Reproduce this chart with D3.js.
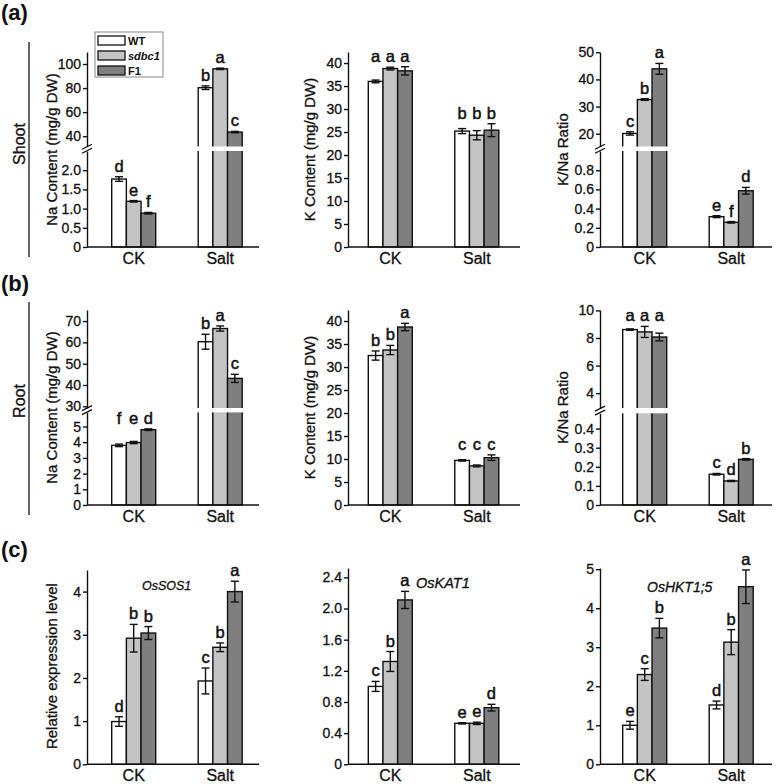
<!DOCTYPE html>
<html><head><meta charset="utf-8">
<script src="https://cdn.jsdelivr.net/npm/d3@7"></script>
<style>
body{margin:0;background:#fff}
svg{display:block}
text{font-family:"Liberation Sans",Arial,sans-serif;fill:#111;stroke:#111;stroke-width:0.3px}
</style>
</head><body><svg id="c" width="778" height="784"></svg>
<script>
// ---------- DATA ----------
const groups = ["CK", "Salt"];
const genotypes = ["WT", "sdbc1", "F1"];
const barColors = ["#ffffff", "#c4c4c4", "#7f7f7f"];

// each: [CK:[WT,sdbc1,F1], Salt:[WT,sdbc1,F1]]
const shootNa = [[1.77, 1.19, 0.88], [80.3, 96.0, 43.4]];
const shootNaErr = [[0.06, 0.02, 0.02], [1.5, 0.6, 0.6]];
const shootNaSig = [["d", "e", "f"], ["b", "a", "c"]];
const shootNaTicksLow = [0, 0.5, 1.0, 1.5, 2.0];
const shootNaTicksHigh = [40, 60, 80, 100];

const shootK = [[36.0, 38.8, 38.3], [25.2, 24.3, 25.4]];
const shootKErr = [[0.3, 0.3, 0.9], [0.55, 1.0, 1.4]];
const shootKSig = [["a", "a", "a"], ["b", "b", "b"]];
const shootKTicks = [0, 5, 10, 15, 20, 25, 30, 35, 40];

const shootRatio = [[20.1, 32.6, 43.9], [0.316, 0.257, 0.586]];
const shootRatioErr = [[0.6, 0.3, 2.0], [0.01, 0.008, 0.035]];
const shootRatioSig = [["c", "b", "a"], ["e", "f", "d"]];
const shootRatioTicksLow = [0, 0.2, 0.4, 0.6, 0.8];
const shootRatioTicksHigh = [20, 30, 40, 50];

const rootNa = [[3.8, 3.98, 4.8], [60.3, 66.5, 43.1]];
const rootNaErr = [[0.08, 0.07, 0.05], [3.5, 1.2, 1.9]];
const rootNaSig = [["f", "e", "d"], ["b", "a", "c"]];
const rootNaTicksLow = [0, 1, 2, 3, 4, 5];
const rootNaTicksHigh = [30, 40, 50, 60, 70];

const rootK = [[32.5, 33.7, 38.7], [9.7, 8.5, 10.3]];
const rootKErr = [[1.0, 1.0, 0.8], [0.15, 0.2, 0.6]];
const rootKSig = [["b", "b", "a"], ["c", "c", "c"]];
const rootKTicks = [0, 5, 10, 15, 20, 25, 30, 35, 40];

const rootRatio = [[8.61, 8.44, 8.07], [0.161, 0.126, 0.239]];
const rootRatioErr = [[0.05, 0.4, 0.28], [0.004, 0.003, 0.004]];
const rootRatioSig = [["a", "a", "a"], ["c", "d", "b"]];
const rootRatioTicksLow = [0, 0.1, 0.2, 0.3, 0.4];
const rootRatioTicksHigh = [4, 6, 8, 10];

const sos1 = [[0.99, 2.92, 3.04], [1.93, 2.71, 4.0]];
const sos1Err = [[0.11, 0.32, 0.15], [0.3, 0.1, 0.24]];
const sos1Sig = [["d", "b", "b"], ["c", "b", "a"]];
const sos1Ticks = [0, 1, 2, 3, 4];

const kat1 = [[1.0, 1.32, 2.11], [0.526, 0.526, 0.727]];
const kat1Err = [[0.064, 0.128, 0.11], [0.008, 0.015, 0.043]];
const kat1Sig = [["c", "b", "a"], ["e", "e", "d"]];
const kat1Ticks = [0, 0.4, 0.8, 1.2, 1.6, 2.0, 2.4];

const hkt = [[1.0, 2.3, 3.49], [1.52, 3.13, 4.55]];
const hktErr = [[0.1, 0.15, 0.25], [0.1, 0.32, 0.43]];
const hktSig = [["e", "c", "b"], ["d", "b", "a"]];
const hktTicks = [0, 1, 2, 3, 4, 5];

// ---------- LAYOUT ----------
const svg = d3.select("#c");
const cols = [{axis: 87, g0: 111.7, lab: 52}, {axis: 348, g0: 368.3, lab: 310}, {axis: 600, g0: 622.7, lab: 563}];
const rows = [{y0: 247, top: 52}, {y0: 505, top: 310}, {y0: 764.3, top: 568}];
const AXLEN = 172;
const fmt = n => d => d === 0 ? "0" : d.toFixed(n);

const panels = [
  {c:0, r:0, v:shootNa, e:shootNaErr, s:shootNaSig, ylab:"Na Content (mg/g DW)",
   low:{dom:[0,2.5], rng:[247,151], ticks:shootNaTicksLow, f:fmt(1)},
   high:{dom:[31.4,110], rng:[146.5,52], ticks:shootNaTicksHigh, f:fmt(0)}, align:[false,false]},
  {c:1, r:0, v:shootK, e:shootKErr, s:shootKSig, ylab:"K Content (mg/g DW)",
   low:{dom:[0,42.4], rng:[247,52], ticks:shootKTicks, f:fmt(0)}, align:[true,true]},
  {c:2, r:0, v:shootRatio, e:shootRatioErr, s:shootRatioSig, ylab:"K/Na Ratio",
   low:{dom:[0,1.0], rng:[247,151], ticks:shootRatioTicksLow, f:fmt(1)},
   high:{dom:[15.3,50.1], rng:[146.5,52], ticks:shootRatioTicksHigh, f:fmt(0)}, align:[false,false]},
  {c:0, r:1, v:rootNa, e:rootNaErr, s:rootNaSig, ylab:"Na Content (mg/g DW)",
   low:{dom:[0,5.9], rng:[505,412.4], ticks:rootNaTicksLow, f:fmt(0)},
   high:{dom:[29.2,75.2], rng:[408,310], ticks:rootNaTicksHigh, f:fmt(0)}, align:[true,false]},
  {c:1, r:1, v:rootK, e:rootKErr, s:rootKSig, ylab:"K Content (mg/g DW)",
   low:{dom:[0,42.4], rng:[505,310], ticks:rootKTicks, f:fmt(0)}, align:[false,true]},
  {c:2, r:1, v:rootRatio, e:rootRatioErr, s:rootRatioSig, ylab:"K/Na Ratio",
   low:{dom:[0,0.48], rng:[505,413.3], ticks:rootRatioTicksLow, f:fmt(1)},
   high:{dom:[2.92,10.03], rng:[408,310], ticks:rootRatioTicksHigh, f:fmt(0)}, align:[true,false]},
  {c:0, r:2, v:sos1, e:sos1Err, s:sos1Sig, ylab:"Relative expression level",
   low:{dom:[0,4.5], rng:[764.3,570], ticks:sos1Ticks, f:fmt(0)}, align:[false,false],
   gene:{t:"OsSOS1", x:142, y:590, size:12.5}},
  {c:1, r:2, v:kat1, e:kat1Err, s:kat1Sig, ylab:null,
   low:{dom:[0,2.52], rng:[764.3,568], ticks:kat1Ticks, f:fmt(1)}, align:[false,false],
   gene:{t:"OsKAT1", x:416, y:588, size:14.5}},
  {c:2, r:2, v:hkt, e:hktErr, s:hktSig, ylab:null,
   low:{dom:[0,5.03], rng:[764.3,568], ticks:hktTicks, f:fmt(0)}, align:[false,false],
   gene:{t:"OsHKT1;5", x:647, y:592, size:14}}
];

const ink = "#111";

panels.forEach(p => {
  const col = cols[p.c], row = rows[p.r];
  const g = svg.append("g");
  const lowS = d3.scaleLinear().domain(p.low.dom).range(p.low.rng);
  const highS = p.high ? d3.scaleLinear().domain(p.high.dom).range(p.high.rng) : null;
  const yOf = v => (highS && v > p.low.dom[1]) ? highS(v) : lowS(v);

  const xG = d3.scaleBand().domain(groups).range([col.g0, col.g0 + 130.5]).paddingInner(0.4913).paddingOuter(0);
  const xB = d3.scaleBand().domain(genotypes).range([0, xG.bandwidth()]);

  const data = [];
  groups.forEach((gr, gi) => genotypes.forEach((gt, ti) => {
    data.push({gr, gi, gt, ti, v: p.v[gi][ti], e: p.e[gi][ti], s: p.s[gi][ti]});
  }));

  // bars
  g.selectAll("rect.bar").data(data).join("rect").attr("class", "bar")
    .attr("x", d => xG(d.gr) + xB(d.gt))
    .attr("width", xB.bandwidth())
    .attr("y", d => yOf(d.v))
    .attr("height", d => lowS(0) - yOf(d.v))
    .attr("fill", d => barColors[d.ti])
    .attr("stroke", ink).attr("stroke-width", 1.4);

  // error bars
  const eb = g.selectAll("g.eb").data(data).join("g").attr("class", "eb")
    .attr("stroke", ink).attr("stroke-width", 1.4);
  const cx = d => xG(d.gr) + xB(d.gt) + xB.bandwidth() / 2;
  eb.append("line").attr("x1", cx).attr("x2", cx).attr("y1", d => yOf(d.v - d.e)).attr("y2", d => yOf(d.v + d.e));
  eb.append("line").attr("x1", d => cx(d) - 4).attr("x2", d => cx(d) + 4).attr("y1", d => yOf(d.v + d.e)).attr("y2", d => yOf(d.v + d.e));
  eb.append("line").attr("x1", d => cx(d) - 4).attr("x2", d => cx(d) + 4).attr("y1", d => yOf(d.v - d.e)).attr("y2", d => yOf(d.v - d.e));

  // break band
  if (highS) {
    const b0 = p.high.rng[0], b1 = p.low.rng[1];
    g.append("rect").attr("x", col.axis + 1).attr("width", AXLEN).attr("y", b0).attr("height", b1 - b0).attr("fill", "#fff");
  }

  // y axes
  const styleAxis = a => {
    a.select(".domain").attr("stroke", ink).attr("stroke-width", 1.4);
    a.selectAll(".tick line").attr("stroke", ink).attr("stroke-width", 1.4);
    a.selectAll(".tick text").attr("font-size", 14).attr("fill", ink)
      .style("font-family", '"Liberation Sans", Arial, sans-serif');
  };
  const aLow = g.append("g").attr("transform", `translate(${col.axis},0)`)
    .call(d3.axisLeft(lowS).tickValues(p.low.ticks).tickFormat(p.low.f).tickSize(4).tickSizeOuter(0).tickPadding(2));
  styleAxis(aLow);
  if (highS) {
    const aHigh = g.append("g").attr("transform", `translate(${col.axis},0)`)
      .call(d3.axisLeft(highS).tickValues(p.high.ticks).tickFormat(p.high.f).tickSize(4).tickSizeOuter(0).tickPadding(2));
    styleAxis(aHigh);
    const mid = (p.high.rng[0] + p.low.rng[1]) / 2;
    [-2, 2].forEach(o => {
      g.append("line").attr("x1", col.axis - 5).attr("x2", col.axis + 5)
        .attr("y1", mid + o + 2.5).attr("y2", mid + o - 2.5)
        .attr("stroke", ink).attr("stroke-width", 1.3);
    });
  }

  // x axis
  g.append("line").attr("x1", col.axis).attr("x2", col.axis + AXLEN)
    .attr("y1", row.y0).attr("y2", row.y0).attr("stroke", ink).attr("stroke-width", 1.4);
  g.selectAll("text.xl").data(groups).join("text").attr("class", "xl")
    .attr("x", d => xG(d) + xG.bandwidth() / 2).attr("y", row.y0 + 17)
    .attr("text-anchor", "middle").attr("font-size", 16).text(d => d);

  // y label
  if (p.ylab) {
    const cy = (row.top + row.y0) / 2;
    g.append("text").attr("transform", `translate(${col.lab},${cy}) rotate(-90)`)
      .attr("text-anchor", "middle").attr("dy", "0.35em").attr("font-size", 15).text(p.ylab);
  }

  // significance letters
  g.selectAll("text.sig").data(data).join("text").attr("class", "sig")
    .attr("x", cx)
    .attr("y", d => {
      if (p.align[d.gi]) {
        const m = d3.min(data.filter(o => o.gi === d.gi), o => yOf(o.v + o.e));
        return m - 5;
      }
      return yOf(d.v + d.e) - 5;
    })
    .attr("text-anchor", "middle").attr("font-size", 16.5).style("stroke-width", "0.5px").text(d => d.s);

  if (p.gene) {
    g.append("text").attr("x", p.gene.x).attr("y", p.gene.y).attr("font-size", p.gene.size)
      .attr("font-style", "italic").text(p.gene.t);
  }
});

// legend
const lg = svg.append("g");
lg.append("rect").attr("x", 95).attr("y", 32).attr("width", 68).attr("height", 45)
  .attr("fill", "#fff").attr("stroke", "#888").attr("stroke-width", 1);
genotypes.forEach((gt, i) => {
  lg.append("rect").attr("x", 98).attr("y", 36 + i * 15).attr("width", 27).attr("height", 9)
    .attr("fill", barColors[i]).attr("stroke", ink).attr("stroke-width", 1.3);
  lg.append("text").attr("x", 128).attr("y", 45 + i * 15).attr("font-size", 11).attr("font-weight", "bold")
    .style("stroke-width", "0px")
    .attr("font-style", gt === "sdbc1" ? "italic" : "normal").text(gt);
});

// panel labels
[["(a)", 20], ["(b)", 291], ["(c)", 557]].forEach(([t, y]) => {
  svg.append("text").attr("x", 1).attr("y", y).attr("font-size", 22).attr("font-weight", "bold")
    .style("stroke-width", "0px").text(t);
});
[["Shoot", 144, 42, 257], ["Root", 401, 302, 515]].forEach(([t, cy, y1, y2]) => {
  svg.append("text").attr("transform", `translate(19,${cy}) rotate(-90)`).attr("text-anchor", "middle")
    .attr("dy", "0.35em").attr("font-size", 16).text(t);
  svg.append("line").attr("x1", 29).attr("x2", 29).attr("y1", y1).attr("y2", y2)
    .attr("stroke", ink).attr("stroke-width", 1.3);
});
</script>
</body></html>
